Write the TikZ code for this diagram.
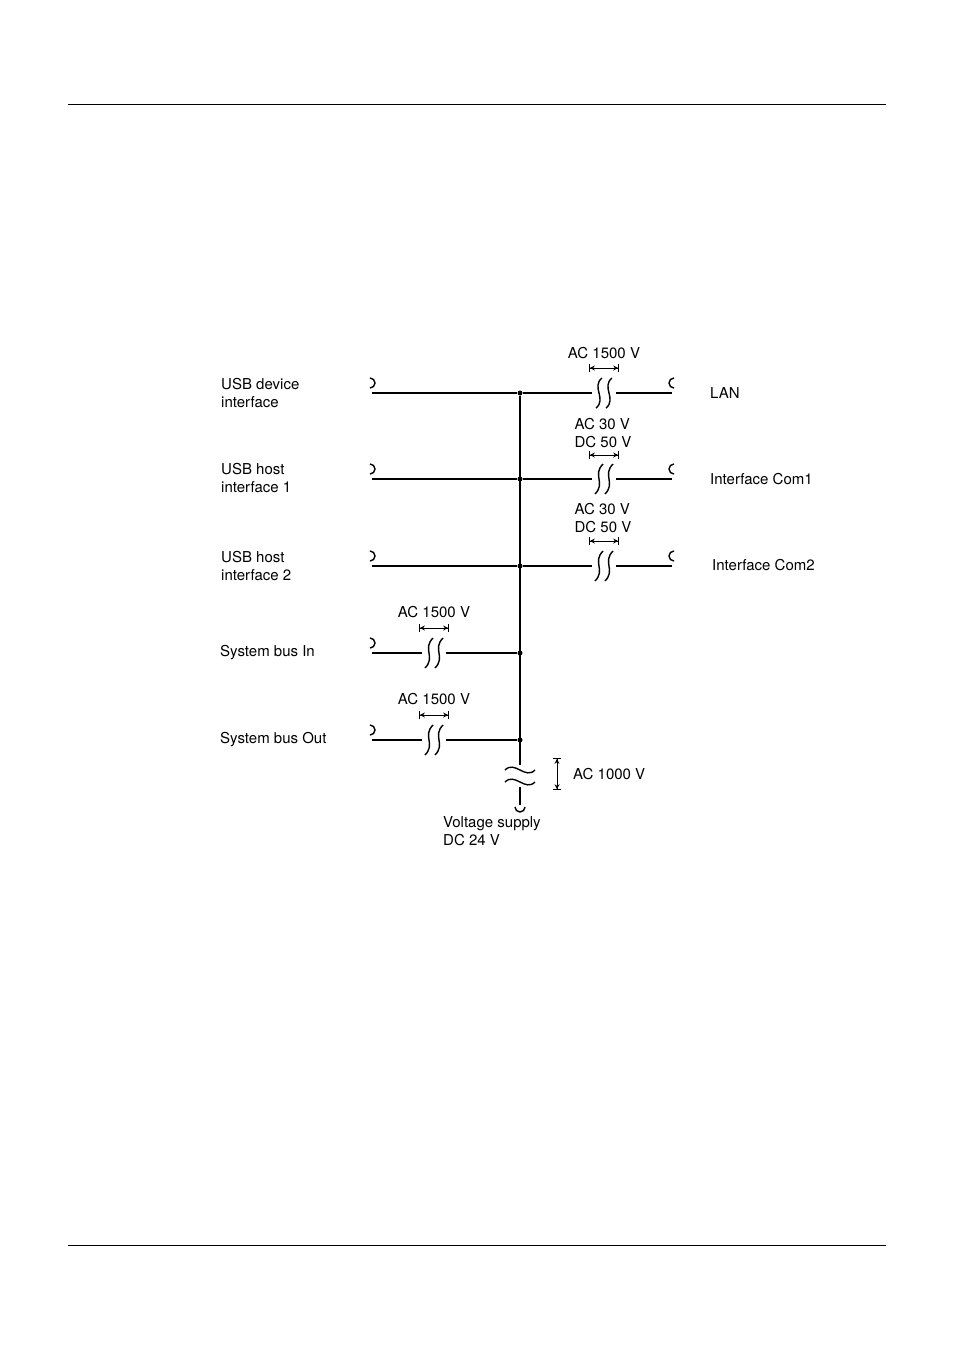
\documentclass[tikz,border=0pt]{standalone}
\usepackage{fontspec}
\setmainfont{TeX Gyre Heros}
\usetikzlibrary{arrows.meta}

\tikzset{
  wire/.style={line width=1.4pt},
  isoline/.style={line width=1.4pt},
  dim/.style={line width=0.8pt,{Bar[width=8pt]Stealth[length=5pt,width=5pt]}-{Stealth[length=5pt,width=5pt]Bar[width=8pt]}},
  lbl/.style={font=\fontsize{15}{18}\selectfont,align=left,inner sep=0pt},
  dot/.style={circle,fill,inner sep=0pt,minimum size=5pt}
}
% two wavy strokes of a galvanic separation
\newcommand\isosym[2]{%
  \foreach \dx in {-5,5}
    \draw[isoline] (#1+\dx+4,#2-15) .. controls (#1+\dx-7,#2-4) and (#1+\dx+7,#2+4) .. (#1+\dx-4,#2+15);}
\newcommand\isosymS[2]{%
  \foreach \dx in {-5,5}
    \draw[isoline] (#1+\dx+3,#2-15) .. controls (#1+\dx-8,#2-6) and (#1+\dx+8,#2+6) .. (#1+\dx-3,#2+15);}

\begin{document}
\begin{tikzpicture}[x=1pt,y=-1pt]
\useasboundingbox (0,0) rectangle (954,1350);
\draw[line width=0.6pt] (68,104) -- (886,104);
\draw[line width=0.6pt] (68,1245) -- (886,1245);

% ends
\foreach \n/\y in {a/393,b/479,c/566,d/653,e/740}
  \coordinate (in\n) at (372,\y);
\foreach \n/\y in {a/393,b/479,c/566}
  \coordinate (out\n) at (672,\y);
\foreach \n/\y in {a/393,b/479,c/566,d/653,e/740}
  \node[dot] (j\n) at (520,\y) {};
\coordinate (pwr) at (520,805);

% wires
\foreach \n in {a,b,c}
  \draw[wire] (in\n) -- (j\n) -- (out\n);
\foreach \n in {d,e}
  \draw[wire] (in\n) -- (j\n);
\draw[wire] (ja) -- (pwr);

% plug cups
\foreach \n in {a,b,c,d,e}
  \draw[wire] ([shift={(-2,-5)}]in\n) arc[start angle=90,end angle=-90,radius=5];
\foreach \n in {a,b,c}
  \draw[wire] ([shift={(2,-5)}]out\n) arc[start angle=90,end angle=270,radius=5];
\draw[wire] ([shift={(-5,2)}]pwr) arc[start angle=180,end angle=0,radius=5];

% separations
\fill[white] (592,378) rectangle (616,408);
\isosymS{604}{393}
\foreach \y in {479,566} {
  \fill[white] (592,\y-15) rectangle (616,\y+15);
  \isosym{604}{\y}
}
\foreach \y in {653,740} {
  \fill[white] (422,\y-15) rectangle (446,\y+15);
  \isosym{434}{\y}
}
\fill[white] (505,765) rectangle (535,787);
\draw[isoline] (505,770) .. controls (515,760) and (525,780) .. (535,770);
\draw[isoline] (505,782) .. controls (515,772) and (525,792) .. (535,782);

% dimension arrows
\foreach \y in {368,455,541} \draw[dim] (589,\y) -- (619,\y);
\foreach \y in {628,715} \draw[dim] (419,\y) -- (449,\y);
\draw[dim] (557,758) -- (557,790);

% labels
\node[lbl,anchor=west] (l1) at (221,393) {USB device\\interface};
\node[lbl,anchor=west] (l2) at (221,478) {USB host\\interface 1};
\node[lbl,anchor=west] (l3) at (221,566) {USB host\\interface 2};
\node[lbl,anchor=west] (l4) at (220,653) {System bus In};
\node[lbl,anchor=west] (l5) at (220,740) {System bus Out};
\node[lbl,anchor=west] (r1) at (710,393) {LAN};
\node[lbl,anchor=west] (r2) at (710,479) {Interface Com1};
\node[lbl,anchor=west] (r3) at (712,565) {Interface Com2};
\node[lbl] (v1) at (604,353) {AC 1500 V};
\node[lbl] (v2) at (603,433) {AC 30 V\\DC 50 V};
\node[lbl] (v3) at (603,518) {AC 30 V\\DC 50 V};
\node[lbl] (v4) at (434,612) {AC 1500 V};
\node[lbl] (v5) at (434,699) {AC 1500 V};
\node[lbl,anchor=west] (v6) at (573,774) {AC 1000 V};
\node[lbl,anchor=north west] (ps) at (443,816) {Voltage supply\\DC 24 V};
\end{tikzpicture}
\end{document}
